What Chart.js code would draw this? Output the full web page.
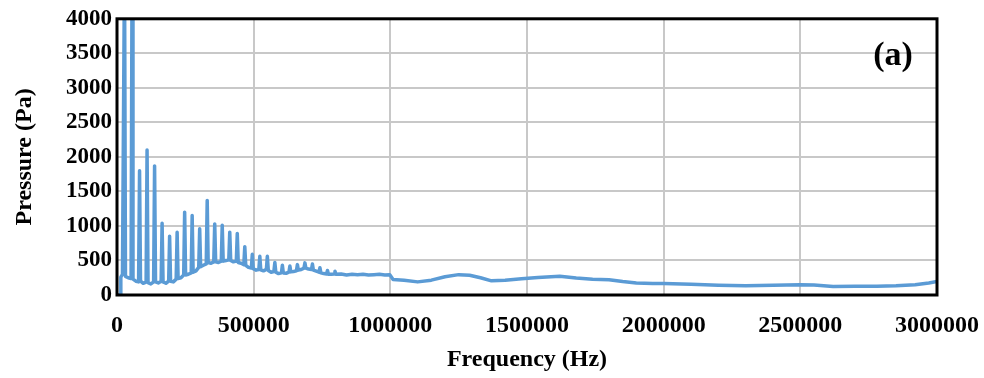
<!DOCTYPE html>
<html>
<head>
<meta charset="utf-8">
<script src="https://cdn.jsdelivr.net/npm/chart.js@4"></script>
<style>
  html, body { margin: 0; padding: 0; background: #fff; }
  #wrap { width: 984px; height: 378px; }
</style>
</head>
<body>
<div id="wrap"><canvas id="spectrum" width="984" height="378"></canvas></div>
<script>
// Spectrum (Hz, Pa)
const freqHz = [
  0, 12000, 14000, 20000, 27500, 31000, 41000, 51500, 55000, 58500,
  69000, 79000, 82500, 86000, 96000, 106500, 110000, 113500, 124000, 134000,
  137500, 141000, 151000, 161500, 165000, 168500, 179000, 189000, 192500, 196000,
  206000, 216500, 220000, 223500, 234000, 244000, 247500, 251000, 261000, 271500,
  275000, 278500, 289000, 299000, 302500, 306000, 316000, 326500, 330000, 333500,
  344000, 354000, 357500, 361000, 371000, 381500, 385000, 388500, 399000, 409000,
  412500, 416000, 426000, 436500, 440000, 443500, 454000, 464000, 467500, 471000,
  481000, 491500, 495000, 498500, 509000, 519000, 522500, 526000, 536000, 546500,
  550000, 553500, 564000, 574000, 577500, 581000, 591000, 601500, 605000, 608500,
  619000, 629000, 632500, 636000, 646000, 656500, 660000, 663500, 674000, 684000,
  687500, 691000, 701000, 711500, 715000, 718500, 729000, 739000, 742500, 746000,
  756000, 766500, 770000, 773500, 784000, 794000, 797500, 801000, 820000, 840000,
  860000, 880000, 900000, 920000, 940000, 960000, 980000, 998000, 1010000, 1050000,
  1100000, 1150000, 1200000, 1250000, 1290000, 1330000, 1370000, 1420000, 1480000, 1540000,
  1620000, 1680000, 1740000, 1800000, 1850000, 1900000, 1960000, 2000000, 2100000, 2200000,
  2300000, 2400000, 2500000, 2550000, 2620000, 2700000, 2780000, 2850000, 2920000, 2970000,
  3000000
];
const pressurePa = [
  0, 0, 260, 300, 4800, 270, 250, 240, 4600, 230,
  200, 190, 1800, 200, 170, 185, 2100, 180, 160, 190,
  1870, 190, 175, 200, 1040, 190, 170, 200, 850, 200,
  190, 230, 910, 240, 250, 290, 1200, 290, 300, 320,
  1150, 330, 350, 400, 960, 410, 430, 450, 1370, 470,
  460, 480, 1030, 480, 470, 490, 1010, 490, 500, 510,
  910, 500, 480, 490, 890, 470, 460, 440, 700, 430,
  400, 390, 590, 380, 360, 370, 560, 365, 350, 370,
  560, 355, 330, 340, 470, 330, 310, 320, 430, 320,
  315, 330, 420, 335, 340, 350, 440, 360, 370, 390,
  465, 390, 375, 370, 450, 360, 345, 330, 395, 320,
  310, 305, 355, 300, 300, 305, 345, 300, 305, 290,
  300, 295, 300, 290, 295, 300, 290, 295, 225, 215,
  190, 215, 265, 295, 285, 250, 205, 213, 235, 255,
  272, 245, 228, 220, 195, 175, 166, 165, 155, 142,
  135, 140, 150, 145, 122, 128, 128, 135, 150, 175,
  195
];

const xMax = 3000000;
const xStep = 500000;
const yMax = 4000;
const yStep = 500;
const panelLabel = '(a)';

const serif = "'Liberation Serif', 'Times New Roman', serif";

const frame = {
  id: 'frame',
  afterDraw(chart) {
    const { ctx, chartArea: a } = chart;
    ctx.save();
    ctx.strokeStyle = '#000';
    ctx.lineWidth = 3;
    ctx.strokeRect(a.left, a.top, a.right - a.left, a.bottom - a.top);
    ctx.fillStyle = '#000';
    ctx.font = 'bold 34px ' + serif;
    ctx.textAlign = 'center';
    ctx.textBaseline = 'alphabetic';
    ctx.fillText(panelLabel, a.right - 44, a.top + 46);
    ctx.restore();
  }
};

new Chart(document.getElementById('spectrum'), {
  type: 'line',
  data: {
    datasets: [{
      data: freqHz.map((f, i) => ({ x: f, y: pressurePa[i] })),
      borderColor: '#5B9BD5',
      borderWidth: 3.5,
      borderJoinStyle: 'round',
      pointRadius: 0,
      tension: 0,
      fill: false
    }]
  },
  options: {
    responsive: false,
    animation: false,
    layout: { padding: { top: 14, right: 47, left: 0, bottom: 0 } },
    plugins: { legend: { display: false }, tooltip: { enabled: false } },
    scales: {
      x: {
        type: 'linear',
        min: 0,
        max: xMax,
        afterFit(s) { s.height = 83; s.paddingLeft = 0; s.paddingRight = 0; },
        grid: { color: '#C8C8C8', lineWidth: 2, drawTicks: false },
        border: { display: false },
        ticks: {
          stepSize: xStep,
          padding: 16,
          color: '#000',
          maxRotation: 0,
          font: { family: serif, size: 24, weight: 'bold' },
          callback: v => String(v)
        },
        title: {
          display: true,
          text: 'Frequency (Hz)',
          color: '#000',
          padding: { top: 0, bottom: 4 },
          font: { family: serif, size: 24, weight: 'bold' }
        }
      },
      y: {
        min: 0,
        max: yMax,
        afterFit(s) { s.width = 117; },
        grid: { color: '#C8C8C8', lineWidth: 2, drawTicks: false },
        border: { display: false },
        ticks: {
          stepSize: yStep,
          padding: 5,
          color: '#000',
          font: { family: serif, size: 23, weight: 'bold' },
          callback: v => String(v)
        },
        title: {
          display: true,
          text: 'Pressure (Pa)',
          color: '#000',
          padding: { top: 10, bottom: 0 },
          font: { family: serif, size: 24, weight: 'bold' }
        }
      }
    }
  },
  plugins: [frame]
});
</script>
</body>
</html>
